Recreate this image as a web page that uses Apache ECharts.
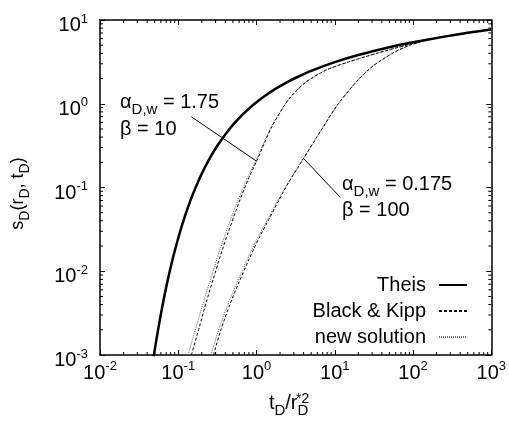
<!DOCTYPE html>
<html><head><meta charset="utf-8">
<script src="https://cdn.jsdelivr.net/npm/echarts@6/dist/echarts.min.js"></script>
<style>html,body{margin:0;padding:0;background:#fff}#c{width:509px;height:423px}</style>
</head><body><div id="c"></div>
<script>
// ---- data ----
const xTickValues = [0.01, 0.1, 1, 10, 100, 1000];
const yTickValues = [0.001, 0.01, 0.1, 1, 10];
const xMinorTicks = [0.02, 0.03, 0.04, 0.05, 0.06, 0.07, 0.08, 0.09, 0.2, 0.3, 0.4, 0.5, 0.6, 0.7, 0.8, 0.9, 2, 3, 4, 5, 6, 7, 8, 9, 20, 30, 40, 50, 60, 70, 80, 90, 200, 300, 400, 500, 600, 700, 800, 900];
const yMinorTicks = [0.002, 0.003, 0.004, 0.005, 0.006, 0.007, 0.008, 0.009, 0.02, 0.03, 0.04, 0.05, 0.06, 0.07, 0.08, 0.09, 0.2, 0.3, 0.4, 0.5, 0.6, 0.7, 0.8, 0.9, 2, 3, 4, 5, 6, 7, 8, 9];

const theisT = [0.04808, 0.05, 0.0556, 0.0625, 0.0714, 0.0833, 0.0909, 0.1, 0.1111, 0.125, 0.1429, 0.1667, 0.2, 0.25, 0.3125, 0.4167, 0.5, 0.625, 0.8333, 1, 1.25, 1.667, 2, 2.5, 3.333, 5, 10, 20, 50, 100, 250, 500, 1000];
const theisS = [0.000903, 0.001148, 0.002073, 0.003779, 0.00697, 0.01305, 0.0180, 0.02491, 0.03481, 0.0489, 0.0696, 0.1000, 0.1465, 0.2194, 0.3106, 0.4544, 0.5598, 0.7024, 0.9057, 1.0443, 1.2227, 1.4645, 1.6234, 1.8229, 2.0867, 2.4679, 3.1365, 3.8173, 4.7261, 5.4167, 6.3315, 7.0242, 7.7171];

// alpha = 1.75, beta = 10
const bk1T = [0.147, 0.186, 0.228, 0.280, 0.344, 0.434, 0.548, 0.653, 0.802, 1.01, 1.57, 2.58, 4.24, 7.60, 14.9, 35.7, 85.9, 154, 300, 1000];
const bk1S = [0.001, 0.00215, 0.00428, 0.00803, 0.0151, 0.0291, 0.0532, 0.0826, 0.1315, 0.2094, 0.532, 1.13, 1.80, 2.50, 3.15, 4.04, 5.06, 5.80, 6.51, 7.717];
const new1T = [0.133, 0.169, 0.210, 0.259, 0.320, 0.406, 0.515, 0.620, 0.770, 0.980, 1.55, 2.58, 4.24, 7.60, 14.9, 35.7, 85.9, 154, 300, 1000];
const new1S = [0.001, 0.00215, 0.00428, 0.00803, 0.0151, 0.0291, 0.0532, 0.0826, 0.1315, 0.2094, 0.532, 1.13, 1.80, 2.50, 3.15, 4.04, 5.06, 5.80, 6.51, 7.717];

// alpha = 0.175, beta = 100
const bk2T = [0.282, 0.353, 0.459, 0.598, 0.802, 1.072, 1.437, 1.925, 2.58, 3.77, 6.76, 11.1, 19.9, 30.9, 58.7, 93.8, 154, 300, 1000];
const bk2S = [0.001, 0.00204, 0.00405, 0.0074, 0.0139, 0.0247, 0.0416, 0.0700, 0.115, 0.204, 0.490, 1.0, 1.93, 2.83, 4.16, 5.04, 5.80, 6.51, 7.717];
const new2T = [0.262, 0.330, 0.431, 0.565, 0.762, 1.024, 1.387, 1.877, 2.54, 3.75, 6.76, 11.1, 19.9, 30.9, 58.7, 93.8, 154, 300, 1000];
const new2S = [0.001, 0.00204, 0.00405, 0.0074, 0.0139, 0.0247, 0.0416, 0.0700, 0.115, 0.204, 0.490, 1.0, 1.93, 2.83, 4.16, 5.04, 5.80, 6.51, 7.717];

// annotation leader lines (data coordinates)
const lead1T = [0.147, 1.01];
const lead1S = [0.70, 0.205];
const lead2T = [4.0, 11.8];
const lead2S = [0.222, 0.076];

const legendNames = ['Theis', 'Black & Kipp', 'new solution'];
// ---------------------------------------

const FONT = '"Liberation Sans", Arial, Helvetica, sans-serif';
const pairs = (a, b) => a.map((v, i) => [v, b[i]]);
const expLabel = v => '{b|10}{p|' + Math.round(Math.log10(v)) + '}';
const labelRich = {
  b: { fontSize: 20, fontFamily: FONT, color: '#000', verticalAlign: 'bottom' },
  p: { fontSize: 13, fontFamily: FONT, color: '#000', verticalAlign: 'bottom', padding: [0, 0, 10, 0] }
};
const subRich = {
  a: { fontSize: 20, fontFamily: FONT, color: '#000', verticalAlign: 'bottom', padding: [0, 0, 5, 0] },
  s: { fontSize: 15, fontFamily: FONT, color: '#000', verticalAlign: 'bottom' },
  w: { width: 14 }
};
const nameRich = {
  a: { fontSize: 18, fontFamily: FONT, color: '#000', verticalAlign: 'bottom', padding: [0, 0, 5, 0] },
  s: { fontSize: 14, fontFamily: FONT, color: '#000', verticalAlign: 'bottom' }
};

const chart = echarts.init(document.getElementById('c'), null, { renderer: 'canvas' });

function axisBase(extra) {
  return Object.assign({
    type: 'log', logBase: 10,
    axisLine: { show: true, lineStyle: { color: '#000', width: 1.5 } },
    axisTick: { show: true, inside: true, length: 5, lineStyle: { color: '#000', width: 1 } },
    splitLine: { show: false }
  }, extra);
}

const lineSeries = (name, t, s, style, z) => ({
  type: 'line', name, data: pairs(t, s), symbol: 'none', showSymbol: false,
  smooth: 0.25, lineStyle: style, itemStyle: { color: style.color }, z, silent: true, animation: false
});

function minorTickSeries(values, isX) {
  return {
    type: 'custom', name: isX ? 'xMinor' : 'yMinor', silent: true, z: 10, clip: false,
    data: values.map(v => isX ? [v, 1] : [1, v]),
    renderItem: function (params, api) {
      const cs = params.coordSys;
      const p = api.coord([api.value(0), api.value(1)]);
      const L = 3;
      const shape = isX
        ? [[p[0], cs.y + cs.height, p[0], cs.y + cs.height - L], [p[0], cs.y, p[0], cs.y + L]]
        : [[cs.x, p[1], cs.x + L, p[1]], [cs.x + cs.width, p[1], cs.x + cs.width - L, p[1]]];
      return {
        type: 'group',
        children: shape.map(s => ({
          type: 'line', shape: { x1: s[0], y1: s[1], x2: s[2], y2: s[3] },
          style: { stroke: '#000', lineWidth: 1 }
        }))
      };
    }
  };
}

chart.setOption({
  animation: false,
  grid: { left: 100, right: 15, top: 20, bottom: 67 },
  xAxis: [
    axisBase({
      position: 'bottom', min: xTickValues[0], max: xTickValues[xTickValues.length - 1],
      axisLabel: { formatter: expLabel, rich: labelRich, margin: 5 },
      name: '{a|t}{s|D}{a|/r}{s|D}{w|}', nameLocation: 'middle', nameGap: 38,
      nameTextStyle: { rich: subRich }
    }),
    axisBase({
      position: 'top', min: xTickValues[0], max: xTickValues[xTickValues.length - 1],
      axisLabel: { show: false }
    })
  ],
  yAxis: [
    axisBase({
      position: 'left', min: yTickValues[0], max: yTickValues[yTickValues.length - 1],
      axisLabel: { formatter: expLabel, rich: labelRich, margin: 12, padding: [8, 0, 0, 0] },
      name: '{a|s}{s|D}{a|(r}{s|D}{a|, t}{s|D}{a|)}', nameLocation: 'middle', nameGap: 68,
      nameRotate: 90, nameTextStyle: { rich: nameRich, padding: [0, 12, 0, 0] }
    }),
    axisBase({
      position: 'right', min: yTickValues[0], max: yTickValues[yTickValues.length - 1],
      axisLabel: { show: false }
    })
  ],
  legend: {
    data: legendNames, orient: 'vertical', align: 'right', right: 36, top: 270,
    itemWidth: 28, itemHeight: 14, itemGap: 6,
    itemStyle: { opacity: 0 },
    textStyle: { fontSize: 20, fontFamily: FONT, color: '#000', padding: [0, 8, 0, 0] }
  },
  series: [
    lineSeries('new solution', new1T, new1S, { color: '#666', width: 1, type: [1, 1] }, 2),
    lineSeries('new solution', new2T, new2S, { color: '#666', width: 1, type: [1, 1] }, 2),
    lineSeries('Black & Kipp', bk1T, bk1S, { color: '#000', width: 1, type: [3, 2] }, 3),
    lineSeries('Black & Kipp', bk2T, bk2S, { color: '#000', width: 1, type: [3, 2] }, 3),
    lineSeries('Theis', theisT, theisS, { color: '#000', width: 2.5, type: 'solid' }, 4),
    Object.assign(lineSeries('lead1', lead1T, lead1S, { color: '#000', width: 1 }, 3), { smooth: false }),
    Object.assign(lineSeries('lead2', lead2T, lead2S, { color: '#000', width: 1 }, 3), { smooth: false }),
    minorTickSeries(xMinorTicks, true),
    minorTickSeries(yMinorTicks, false)
  ],
  graphic: [
    { type: 'text', left: 120, top: 92, style: { text: '{a|α}{s|D,w}{a| = 1.75}', rich: subRich } },
    { type: 'text', left: 120, top: 119, style: { text: '{a|β = 10}', rich: subRich } },
    { type: 'text', left: 342, top: 174, style: { text: '{a|α}{s|D,w}{a| = 0.175}', rich: subRich } },
    { type: 'text', left: 342, top: 200, style: { text: '{a|β = 100}', rich: subRich } },
    { type: 'text', left: 296, top: 392, style: { text: '*2', font: '14px ' + FONT, fill: '#000' } }
  ]
});
</script></body></html>
